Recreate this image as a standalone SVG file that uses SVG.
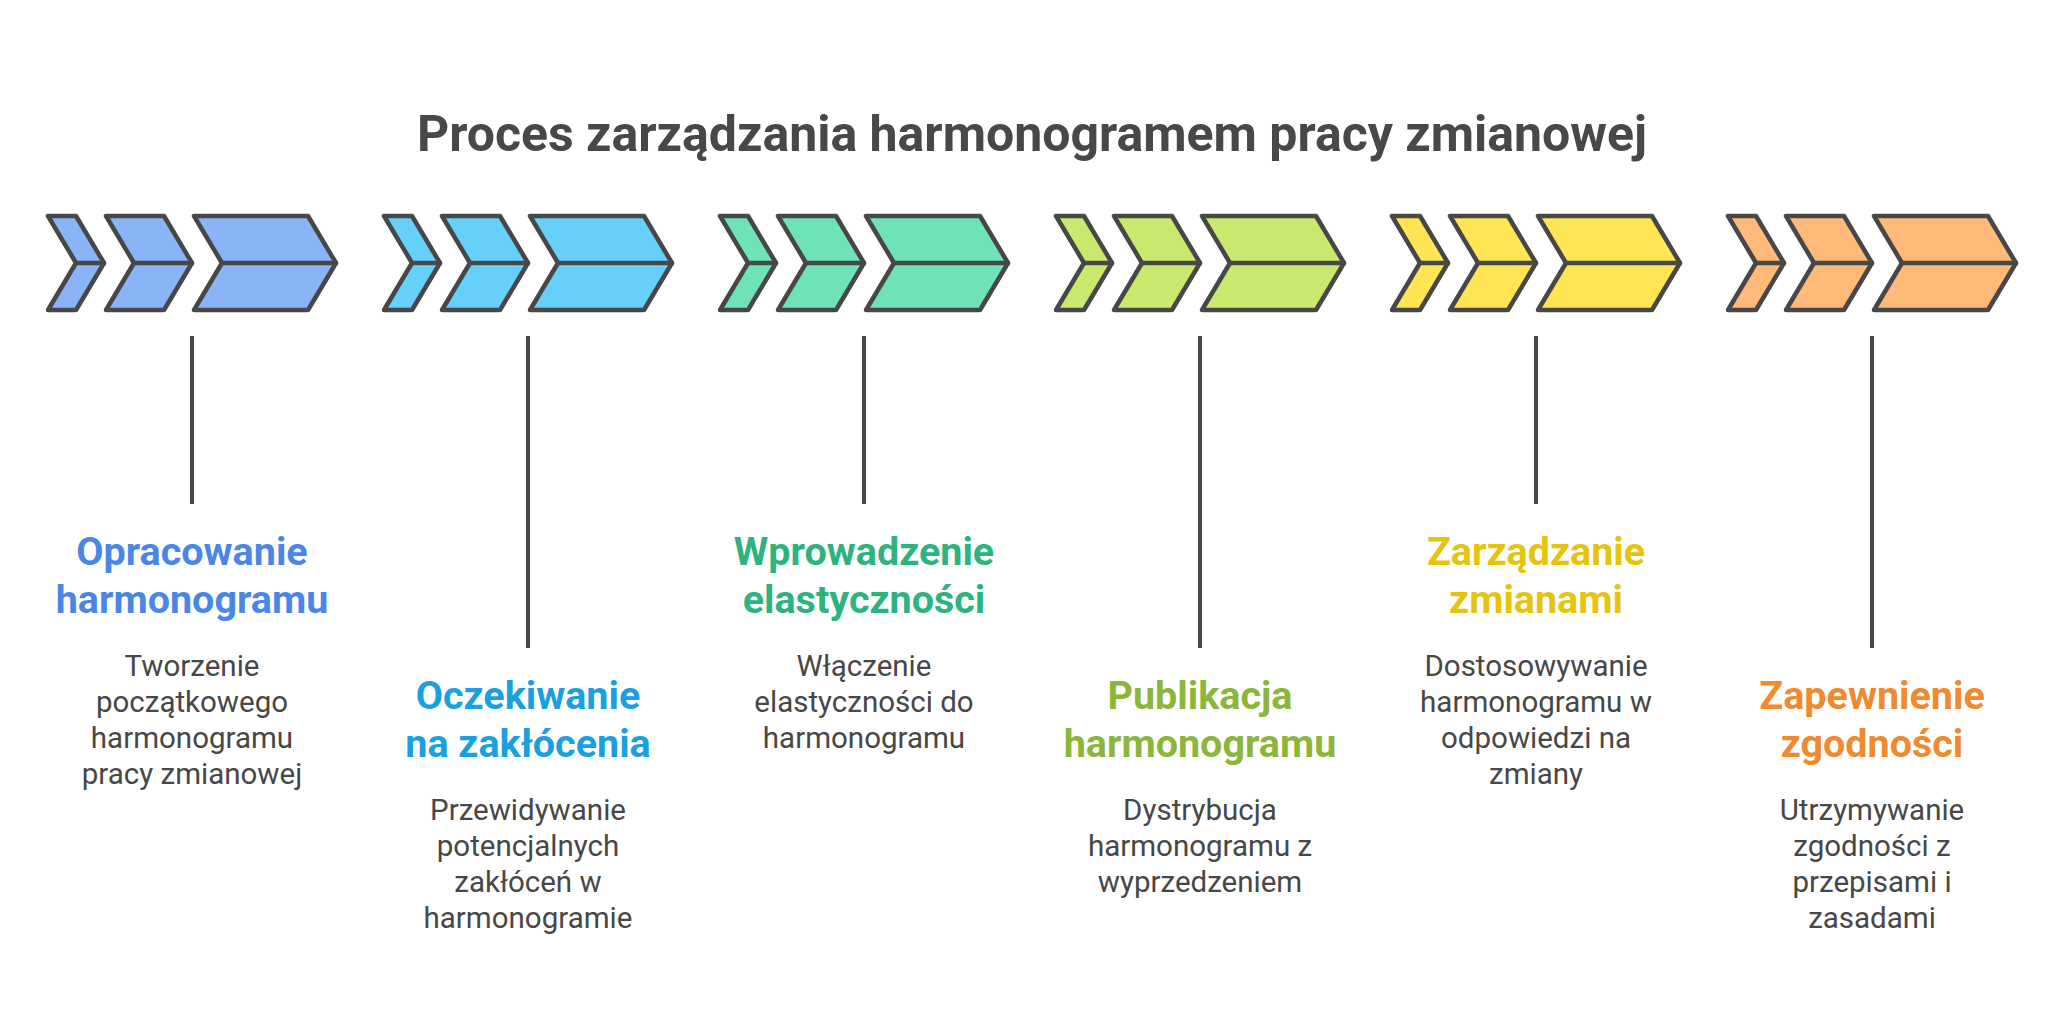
<svg xmlns="http://www.w3.org/2000/svg" width="2064" height="1032" viewBox="0 0 2064 1032">
<defs>
<style>
.bg{fill:#ffffff}
.title{font-family:Roboto,"Liberation Sans",sans-serif;font-weight:700;font-size:50px;fill:#484848;text-anchor:middle}
.chev{stroke:#474747;stroke-width:4.5;stroke-linejoin:round;stroke-linecap:round}
.mid{stroke:#474747;stroke-width:4.5;stroke-linecap:round;fill:none}
.conn{stroke:#474747;stroke-width:4;fill:none}
.head{font-family:Roboto,"Liberation Sans",sans-serif;font-weight:700;font-size:39.5px;text-anchor:middle}
.desc{font-family:Roboto,"Liberation Sans",sans-serif;font-weight:400;font-size:29.5px;fill:#474747;text-anchor:middle}
</style>
<g id="chevs">
<path class="chev" d="M48,216 L76,216 L104,263 L76,310 L48,310 L76,263 Z"/>
<path class="mid" d="M76,263 L104,263"/>
<path class="chev" d="M106,216 L164,216 L192,263 L164,310 L106,310 L134,263 Z"/>
<path class="mid" d="M134,263 L192,263"/>
<path class="chev" d="M194,216 L308,216 L336,263 L308,310 L194,310 L222,263 Z"/>
<path class="mid" d="M222,263 L336,263"/>
</g>
</defs>
<rect class="bg" x="0" y="0" width="2064" height="1032"/>
<text class="title" x="1032" y="151">Proces zarządzania harmonogramem pracy zmianowej</text>

<g id="connectors">
<line class="conn" x1="192" y1="336" x2="192" y2="504"/>
<line class="conn" x1="528" y1="336" x2="528" y2="648"/>
<line class="conn" x1="864" y1="336" x2="864" y2="504"/>
<line class="conn" x1="1200" y1="336" x2="1200" y2="648"/>
<line class="conn" x1="1536" y1="336" x2="1536" y2="504"/>
<line class="conn" x1="1872" y1="336" x2="1872" y2="648"/>
</g>

<g id="step1">
<use href="#chevs" fill="#8ab4f8"/>
<text class="head" fill="#4a86e8"><tspan x="192" y="565">Opracowanie</tspan><tspan x="192" y="613">harmonogramu</tspan></text>
<text class="desc"><tspan x="192" y="676">Tworzenie</tspan><tspan x="192" y="712">początkowego</tspan><tspan x="192" y="748">harmonogramu</tspan><tspan x="192" y="784">pracy zmianowej</tspan></text>
</g>

<g id="step2">
<use href="#chevs" x="336" fill="#66cffa"/>
<text class="head" fill="#1aa0e1"><tspan x="528" y="709">Oczekiwanie</tspan><tspan x="528" y="757">na zakłócenia</tspan></text>
<text class="desc"><tspan x="528" y="820">Przewidywanie</tspan><tspan x="528" y="856">potencjalnych</tspan><tspan x="528" y="892">zakłóceń w</tspan><tspan x="528" y="928">harmonogramie</tspan></text>
</g>

<g id="step3">
<use href="#chevs" x="672" fill="#6ee3b8"/>
<text class="head" fill="#2cb37e"><tspan x="864" y="565">Wprowadzenie</tspan><tspan x="864" y="613">elastyczności</tspan></text>
<text class="desc"><tspan x="864" y="676">Włączenie</tspan><tspan x="864" y="712">elastyczności do</tspan><tspan x="864" y="748">harmonogramu</tspan></text>
</g>

<g id="step4">
<use href="#chevs" x="1008" fill="#c9e96e"/>
<text class="head" fill="#8bb63a"><tspan x="1200" y="709">Publikacja</tspan><tspan x="1200" y="757">harmonogramu</tspan></text>
<text class="desc"><tspan x="1200" y="820">Dystrybucja</tspan><tspan x="1200" y="856">harmonogramu z</tspan><tspan x="1200" y="892">wyprzedzeniem</tspan></text>
</g>

<g id="step5">
<use href="#chevs" x="1344" fill="#ffe454"/>
<text class="head" fill="#e6c30d"><tspan x="1536" y="565">Zarządzanie</tspan><tspan x="1536" y="613">zmianami</tspan></text>
<text class="desc"><tspan x="1536" y="676">Dostosowywanie</tspan><tspan x="1536" y="712">harmonogramu w</tspan><tspan x="1536" y="748">odpowiedzi na</tspan><tspan x="1536" y="784">zmiany</tspan></text>
</g>

<g id="step6">
<use href="#chevs" x="1680" fill="#ffb979"/>
<text class="head" fill="#ef8a2e"><tspan x="1872" y="709">Zapewnienie</tspan><tspan x="1872" y="757">zgodności</tspan></text>
<text class="desc"><tspan x="1872" y="820">Utrzymywanie</tspan><tspan x="1872" y="856">zgodności z</tspan><tspan x="1872" y="892">przepisami i</tspan><tspan x="1872" y="928">zasadami</tspan></text>
</g>
</svg>
